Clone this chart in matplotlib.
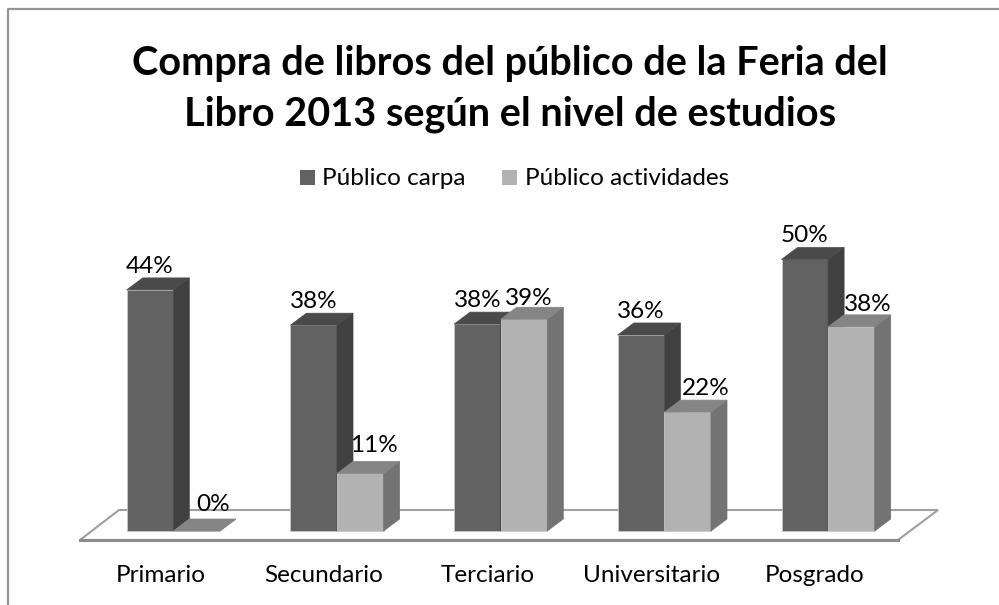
import matplotlib
matplotlib.use("Agg")
import matplotlib.pyplot as plt
from matplotlib.patches import Polygon, Rectangle

categories = ["Primario", "Secundario", "Terciario", "Universitario", "Posgrado"]
series_names = ["Público carpa", "Público actividades"]
carpa = [44.4, 37.9, 38.1, 36.1, 50.0]
actividades = [0.0, 10.6, 39.0, 21.9, 37.6]
title = "Compra de libros del público de la Feria del\nLibro 2013 según el nivel de estudios"

W, H = 999, 605
PX = 163.7          # pixels per category
PY = 5.43           # pixels per percent
BW = 46.6 / PX
DX, DY = 16 / PX, 12 / PY

# pixel nudges of the light series' value labels, as placed in the original
LIGHT_NUDGE_X = (16, 14, 5, 18, 16)
LIGHT_NUDGE_Y = (8, 9, 2, 5, 4)
DARK_GAP = 5

plt.rcParams['font.family'] = ['Lato', 'DejaVu Sans']
fig = plt.figure(figsize=(W / 100, H / 100), dpi=100, facecolor='white')
ax = fig.add_axes([0, 0, 1, 1])
ax.set_xlim(-173.3 / PX, (W - 173.3) / PX)
ax.set_ylim((531 - H) / PY, 531 / PY)
ax.axis('off')

fx = lambda p: (p - 173.3) / PX
fy = lambda p: (531 - p) / PY

# frame (open on the right and at the bottom)
ax.plot([fx(8.5), fx(8.5), fx(W + 5)], [fy(H + 5), fy(9), fy(9)], color='#959595', lw=1.6, zorder=1)

# floor
ax.add_patch(Polygon([(fx(80), fy(540)), (fx(898), fy(540)), (fx(938), fy(510)), (fx(119), fy(510))],
                     closed=True, fc='white', ec='#a0a0a0', lw=1.5, zorder=2))
ax.plot([fx(80), fx(898)], [fy(540), fy(540)], color='#8c8c8c', lw=2.2, zorder=2)

COL = {0: ('#626262', '#404040', '#4a4a4a', '#c8c8c8'),
       1: ('#b2b2b2', '#737373', '#858585', '#c8c8c8')}

def bar3d(x, v, k, z):
    front, side, top, edge = COL[k]
    ax.bar(x, v, BW, align='edge', color=front, edgecolor=edge, lw=0.6, zorder=z)
    ax.add_patch(Polygon([(x + BW, 0), (x + BW + DX, DY), (x + BW + DX, v + DY), (x + BW, v)],
                         closed=True, fc=side, ec=side, lw=0.5, zorder=z))
    ax.add_patch(Polygon([(x, v), (x + DX, v + DY), (x + BW + DX, v + DY), (x + BW, v)],
                         closed=True, fc=top, ec=top, lw=0.5, zorder=z))

for i in range(len(categories)):
    bar3d(i - BW, carpa[i], 0, 3)
    bar3d(i, actividades[i], 1, 4)

FS = 17.5
for i, c in enumerate(categories):
    ax.text(i - 13 / PX, fy(576), c, ha='center', va='center', fontsize=FS, color='black', zorder=6)
    ax.text(i - BW / 2, carpa[i] + DY + DARK_GAP / PY, f"{carpa[i]:.0f}%", ha='center', va='baseline',
            fontsize=FS, zorder=6)
    ax.text(i + BW / 2 + LIGHT_NUDGE_X[i] / PX, actividades[i] + DY + LIGHT_NUDGE_Y[i] / PY,
            f"{actividades[i]:.0f}%", ha='center', va='baseline', fontsize=FS, zorder=6)

ax.text(fx(510), fy(89), title, ha='center', va='center', fontsize=28.5, fontweight='bold',
        linespacing=1.42, zorder=6)

# legend
ax.add_patch(Rectangle((fx(300), fy(185)), 15 / PX, 15 / PY, fc=COL[0][0], ec='none', zorder=6))
ax.text(fx(322.5), fy(179), series_names[0], va='center', fontsize=FS, zorder=6)
ax.add_patch(Rectangle((fx(502), fy(185)), 15 / PX, 15 / PY, fc=COL[1][0], ec='none', zorder=6))
ax.text(fx(525), fy(179), series_names[1], va='center', fontsize=FS, zorder=6)

fig.savefig('out.png', dpi=100)
